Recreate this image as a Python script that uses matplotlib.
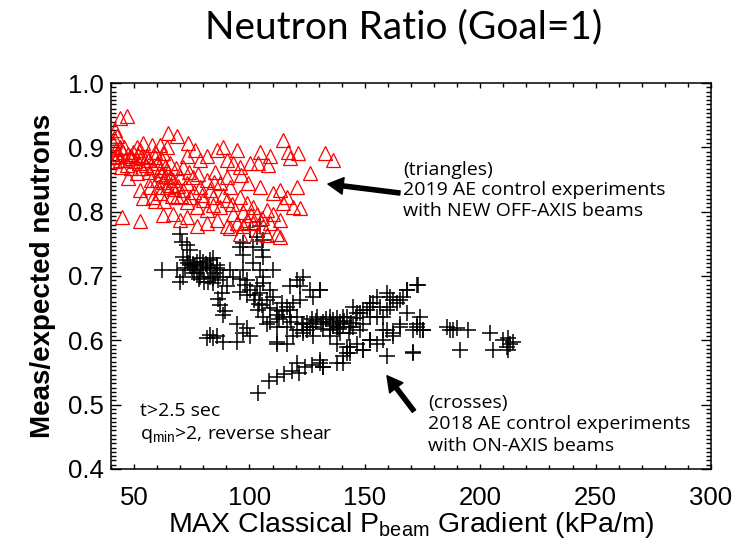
import matplotlib
matplotlib.use("Agg")
import matplotlib.pyplot as plt
from matplotlib.ticker import MultipleLocator, AutoMinorLocator

plt.rcParams['font.family'] = 'Liberation Sans'
plt.rcParams['mathtext.fontset'] = 'custom'
plt.rcParams['mathtext.rm'] = 'Liberation Sans'
plt.rcParams['mathtext.it'] = 'Liberation Sans'

# 2019 shots, new off-axis beams (triangles)
tri_x = [41.7, 43.9, 46.8, 42.4, 41.0, 43.9, 45.3, 42.4, 41.7, 46.1, 48.2, 51.1, 54.0, 52.6, 55.4,
         57.6, 59.1, 61.2, 64.1, 62.7, 64.8, 68.4, 73.5, 76.4, 72.8, 78.6, 81.4, 85.8, 88.7, 94.4,
         90.1, 93.0, 95.9, 100.2, 103.8, 104.6, 108.9, 108.2, 114.7, 116.8, 121.2, 117.6, 132.7,
         136.3, 126.2,
         47.5, 51.1, 52.6, 56.9, 54.0, 58.3, 59.8, 61.2, 63.4, 65.6, 64.1, 61.2, 59.1, 67.0, 69.9,
         72.8, 75.7, 71.3, 68.4, 74.2, 78.6, 81.4, 82.9, 87.2, 90.1, 91.6, 84.3, 80.0, 77.1, 81.4,
         87.2, 90.1, 93.0, 95.9, 98.8, 101.7, 104.6, 103.1, 107.4, 110.3, 113.2, 116.1, 120.4,
         114.7, 119.0, 121.9, 110.3, 108.9, 106.0, 103.1, 98.8, 94.4, 90.1, 85.8, 81.4, 77.1, 72.8,
         69.9, 67.0, 62.7, 52.6, 44.6,
         91.6, 95.9, 97.3, 101.7, 107.4, 111.8, 113.2, 113.2,
         41.2, 42.0, 43.0, 44.5, 45.8, 47.0, 48.5, 49.5, 50.5, 52.0, 53.5, 55.0, 56.5, 58.0, 60.0,
         61.5, 62.5, 63.5, 64.5, 66.0, 67.5, 69.0, 60.5, 57.5, 63.0, 66.5, 70.5, 73.0, 76.0, 79.5,
         84.0, 88.5, 92.5, 97.0, 100.5, 105.5, 41.5, 44.0, 47.5, 49.0, 51.5, 53.0, 56.0, 59.0,
         62.0, 65.5, 68.0, 71.0, 74.0, 77.5, 85.0, 96.5, 99.5, 84.5]
tri_y = [0.927, 0.945, 0.948, 0.917, 0.906, 0.901, 0.893, 0.886, 0.878, 0.880, 0.886, 0.901, 0.906,
         0.896, 0.886, 0.904, 0.893, 0.904, 0.901, 0.891, 0.922, 0.917, 0.906, 0.896, 0.886, 0.880,
         0.886, 0.896, 0.901, 0.896, 0.880, 0.875, 0.870, 0.875, 0.875, 0.893, 0.886, 0.873, 0.911,
         0.893, 0.891, 0.883, 0.891, 0.880, 0.860,
         0.852, 0.860, 0.834, 0.839, 0.821, 0.823, 0.849, 0.865, 0.870, 0.854, 0.839, 0.829, 0.816,
         0.849, 0.854, 0.844, 0.854, 0.834, 0.823, 0.823, 0.839, 0.849, 0.834, 0.844, 0.854, 0.839,
         0.823, 0.818, 0.808, 0.803, 0.808, 0.818, 0.797, 0.823, 0.813, 0.808, 0.839, 0.797, 0.803,
         0.829, 0.834, 0.823, 0.839, 0.813, 0.808, 0.805, 0.797, 0.782, 0.777, 0.766, 0.787, 0.782,
         0.777, 0.787, 0.782, 0.777, 0.792, 0.787, 0.797, 0.795, 0.785, 0.792,
         0.774, 0.766, 0.777, 0.782, 0.764, 0.766, 0.787, 0.761,
         0.915, 0.897, 0.890, 0.870, 0.900, 0.872, 0.868, 0.893, 0.878, 0.875, 0.868, 0.873, 0.862,
         0.870, 0.876, 0.858, 0.846, 0.855, 0.862, 0.842, 0.835, 0.840, 0.838, 0.850, 0.817, 0.825,
         0.825, 0.815, 0.830, 0.826, 0.810, 0.826, 0.812, 0.800, 0.795, 0.790, 0.885, 0.880, 0.890,
         0.883, 0.888, 0.885, 0.880, 0.885, 0.880, 0.875, 0.868, 0.870, 0.862, 0.858, 0.862, 0.857,
         0.845, 0.846]

# 2018 shots, on-axis beams (crosses)
crs_x = [69.9, 70.6, 72.8, 74.2, 71.3, 72.8, 74.2, 76.4, 77.1, 78.6, 80.0, 81.5, 82.9, 84.3, 85.8,
         87.2, 85.1, 82.9, 82.2, 84.3, 86.5, 88.7, 90.1, 87.9, 86.5, 87.2, 89.4, 88.7, 61.9, 69.9,
         71.3, 68.5, 75.0, 77.1, 78.6, 80.0, 91.6, 93.0, 95.9, 97.3, 98.8, 98.1, 100.2, 103.1, 102.4,
         104.6, 106.0, 108.9, 110.3, 107.5, 105.3, 103.8, 106.0, 107.5, 108.9, 111.8, 114.0, 116.1,
         114.7, 117.6, 116.1, 111.8, 94.4, 97.3, 100.2, 98.8, 81.5, 84.3, 88.7, 94.4, 111.8, 120.5,
         123.3, 122.6, 126.2, 129.1, 132.0, 134.9, 136.3, 137.8, 139.2, 140.7, 142.1, 143.6, 146.5,
         149.3, 152.2, 153.7, 155.1, 158.0, 159.4, 160.9, 162.3, 163.8, 166.7, 168.1, 172.4, 159.4,
         162.3, 158.0, 165.2, 171.0, 173.9, 172.4, 175.3, 152.2, 149.3, 146.5, 142.1, 140.7, 143.6,
         134.9, 137.8, 123.3, 119.0, 116.1, 111.8, 97.3, 95.9, 101.7, 103.1, 106.0, 97.3, 100.2,
         104.6, 105.3, 106.0, 101.7, 104.6, 110.3, 106.0, 120.5, 123.3, 117.6, 121.9, 126.2, 130.6,
         127.7, 121.9, 119.0, 117.6, 120.5, 123.3, 127.7, 159.4, 155.1, 152.2, 149.3, 147.9, 171.0,
         120.5, 130.6, 132.0, 137.8, 82.9, 85.8,
         130.6, 124.8, 127.7, 130.6, 132.0, 140.7, 142.1, 143.6, 149.3, 152.2, 155.1, 159.5, 171.0,
         158.0, 162.3, 165.2, 172.4, 173.9, 175.3, 168.1, 165.2, 160.9, 168.1, 173.2, 156.6, 152.2,
         150.8, 147.9, 145.0, 140.7, 136.3, 137.8, 134.9, 139.2, 185.5, 186.9, 188.3, 189.8, 194.8,
         191.2, 204.2, 205.7, 210.0, 212.2, 212.9, 214.3, 211.5, 212.2,
         103.5, 108.5, 112.0, 115.0, 118.5, 121.5, 124.0, 127.0,
         131.0, 133.0, 135.0, 138.0, 141.0, 144.0, 146.0, 129.0, 127.0, 125.0, 132.0, 136.0, 139.0,
         143.0, 145.0,
         72.0, 73.5, 75.5, 79.0, 81.0, 83.5, 86.0, 76.0, 78.0, 80.5, 84.0,
         96.0, 99.0, 102.0, 104.0, 109.0, 112.0, 114.0, 118.0, 113.0]
crs_y = [0.766, 0.753, 0.748, 0.741, 0.730, 0.725, 0.717, 0.715, 0.722, 0.728, 0.722, 0.715, 0.725,
         0.728, 0.717, 0.709, 0.704, 0.699, 0.691, 0.689, 0.694, 0.699, 0.684, 0.673, 0.665, 0.655,
         0.645, 0.639, 0.709, 0.691, 0.699, 0.709, 0.709, 0.704, 0.699, 0.709, 0.709, 0.699, 0.696,
         0.709, 0.694, 0.686, 0.678, 0.684, 0.671, 0.673, 0.689, 0.678, 0.668, 0.663, 0.655, 0.647,
         0.637, 0.626, 0.629, 0.647, 0.658, 0.652, 0.637, 0.637, 0.621, 0.621, 0.626, 0.611, 0.606,
         0.619, 0.603, 0.603, 0.598, 0.598, 0.595, 0.616, 0.611, 0.626, 0.621, 0.637, 0.629, 0.637,
         0.626, 0.621, 0.629, 0.626, 0.637, 0.621, 0.642, 0.647, 0.652, 0.658, 0.637, 0.637, 0.647,
         0.652, 0.663, 0.658, 0.668, 0.678, 0.686, 0.616, 0.606, 0.601, 0.626, 0.616, 0.637, 0.621,
         0.616, 0.601, 0.585, 0.595, 0.590, 0.575, 0.580, 0.606, 0.595, 0.616, 0.606, 0.595, 0.598,
         0.733, 0.745, 0.745, 0.761, 0.756, 0.751, 0.772, 0.777, 0.741, 0.730, 0.720, 0.709, 0.709,
         0.699, 0.694, 0.699, 0.684, 0.684, 0.678, 0.678, 0.668, 0.663, 0.658, 0.647, 0.637, 0.626,
         0.621, 0.673, 0.668, 0.637, 0.626, 0.616, 0.582, 0.564, 0.564, 0.559, 0.564, 0.608, 0.606,
         0.678, 0.616, 0.606, 0.569, 0.559, 0.564, 0.580, 0.590, 0.585, 0.601, 0.595, 0.575, 0.580,
         0.616, 0.611, 0.621, 0.626, 0.616, 0.616, 0.642, 0.663, 0.668, 0.678, 0.686, 0.652, 0.658,
         0.647, 0.642, 0.652, 0.637, 0.632, 0.621, 0.616, 0.611, 0.621, 0.616, 0.616, 0.619, 0.616,
         0.585, 0.611, 0.585, 0.601, 0.603, 0.595, 0.598, 0.590, 0.585,
         0.518, 0.537, 0.543, 0.547, 0.552, 0.549, 0.558, 0.562,
         0.625, 0.633, 0.628, 0.635, 0.630, 0.627, 0.634, 0.630, 0.633, 0.627, 0.618, 0.622, 0.617,
         0.612, 0.620,
         0.712, 0.720, 0.718, 0.713, 0.719, 0.712, 0.713, 0.705, 0.695, 0.690, 0.697,
         0.675, 0.670, 0.662, 0.657, 0.650, 0.640, 0.645, 0.628, 0.633]

fig = plt.figure(figsize=(7.37, 5.44), dpi=100)
ax = fig.add_axes([0.1506, 0.1379, 0.8141, 0.7095])

ax.plot(crs_x, crs_y, linestyle='none', marker='+', ms=11, mew=1.1, color='black')
ax.plot(tri_x, tri_y, linestyle='none', marker='^', ms=9.5, mew=0.9,
        markerfacecolor='none', markeredgecolor='red')

ax.set_xlim(40, 300)
ax.set_ylim(0.4, 1.0)
ax.xaxis.set_major_locator(MultipleLocator(50))
ax.xaxis.set_minor_locator(MultipleLocator(10))
ax.yaxis.set_major_locator(MultipleLocator(0.1))
ax.yaxis.set_minor_locator(AutoMinorLocator(15))
ax.tick_params(which='both', direction='in', top=True, right=True, width=1.0)
ax.tick_params(axis='y', which='major', length=7.5, labelsize=18.5, pad=5)
ax.tick_params(axis='y', which='minor', length=3.8)
ax.tick_params(axis='x', which='major', length=3.5, labelsize=18.5, pad=12)
ax.tick_params(axis='x', which='minor', length=3.2)
ax.yaxis.set_major_formatter(plt.FormatStrFormatter('%.1f'))
for s in ax.spines.values():
    s.set_linewidth(1.1)

ax.set_xlabel(r'MAX Classical P$_{\rm beam}$ Gradient (kPa/m)', fontsize=20.5, labelpad=0)
ax.set_ylabel('Meas/expected neutrons', fontsize=20, fontweight='bold', labelpad=9)
fig.text(0.547, 0.950, 'Neutron Ratio (Goal=1)', ha='center', va='center',
         fontsize=28, family='Lato')

note = dict(fontsize=14, family='Open Sans', va='center', ha='left')
ax.text(166.5, 0.865, '(triangles)', **note)
ax.text(166.5, 0.834, '2019 AE control experiments', **note)
ax.text(166.5, 0.801, 'with NEW OFF-AXIS beams', **note)
ax.text(177.4, 0.503, '(crosses)', **note)
ax.text(177.4, 0.470, '2018 AE control experiments', **note)
ax.text(177.4, 0.436, 'with ON-AXIS beams', **note)
ax.text(52.6, 0.490, 't>2.5 sec', **note)
ax.text(52.6, 0.454, r'q$_{\rm min}$>2, reverse shear', **note)

arrow = dict(facecolor='black', edgecolor='black', width=3, headwidth=12, headlength=11, shrink=0)
ax.annotate('', xy=(134.0, 0.843), xytext=(165.2, 0.829), arrowprops=arrow)
ax.annotate('', xy=(159.6, 0.545), xytext=(171.3, 0.490), arrowprops=arrow)

fig.savefig('out.png', dpi=100)
